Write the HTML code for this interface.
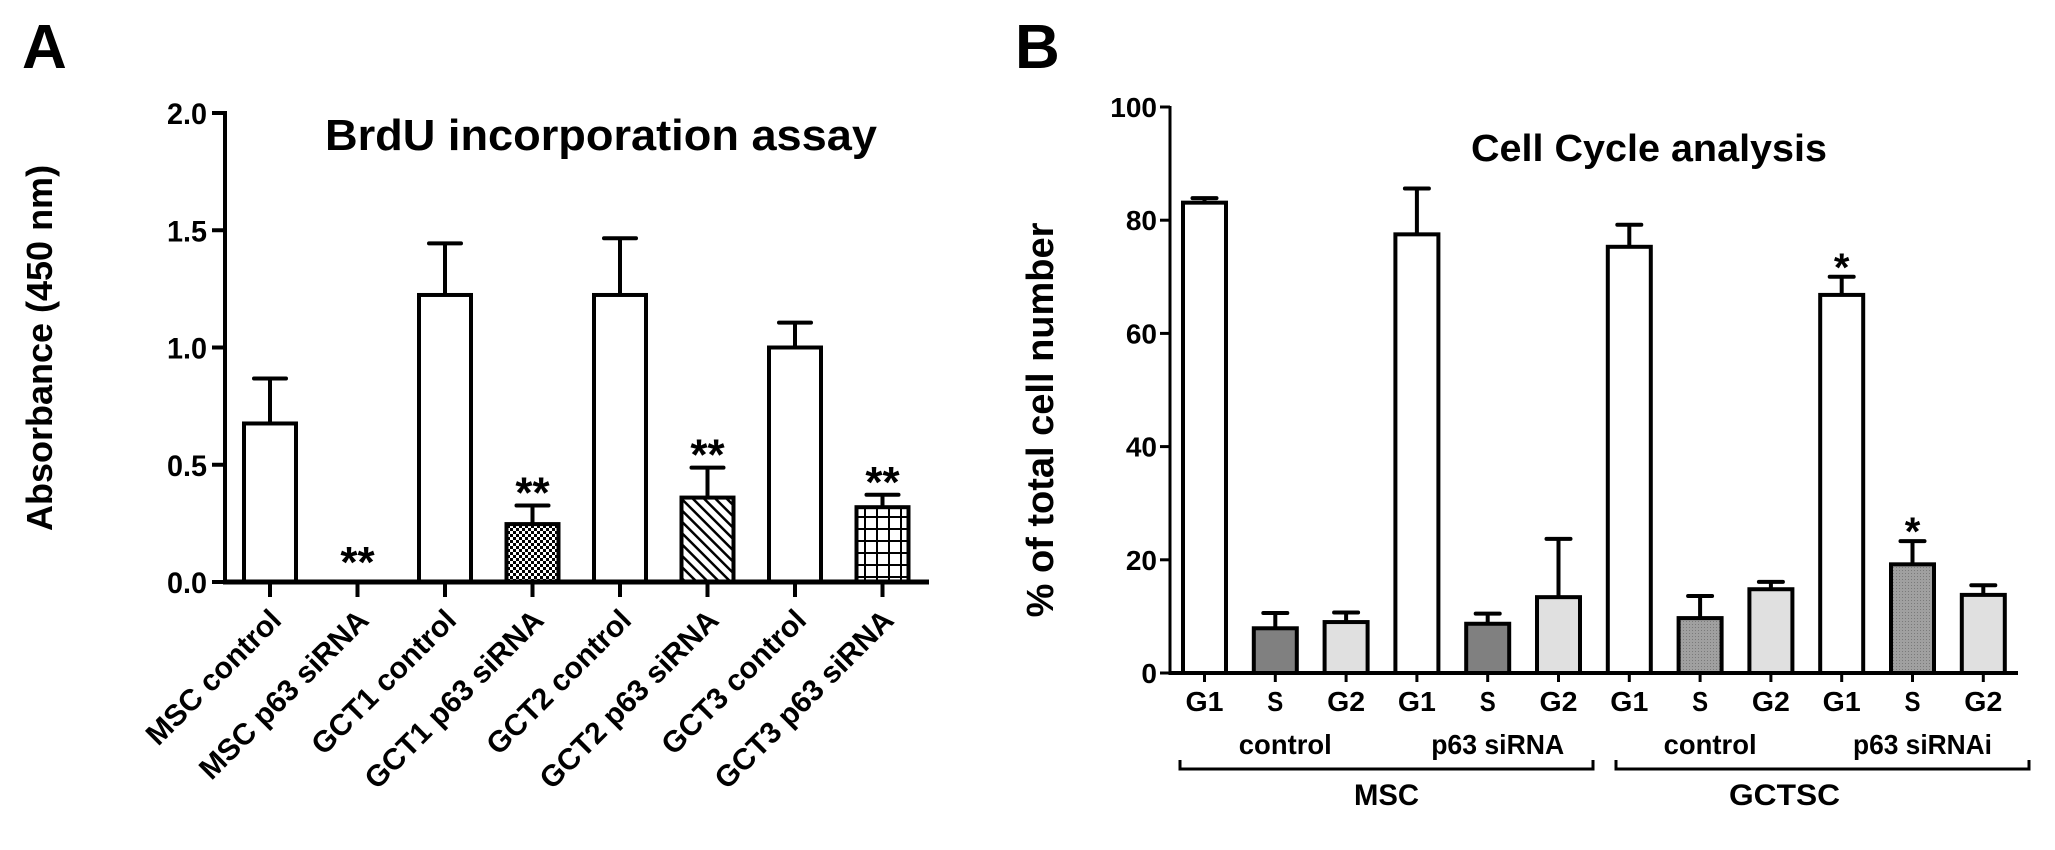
<!DOCTYPE html>
<html><head><meta charset="utf-8"><style>
html,body{margin:0;padding:0;background:#fff;}
svg{display:block;font-family:"Liberation Sans",Arial,sans-serif;font-weight:bold;}
</style></head><body>
<svg id="fig" width="2055" height="850" viewBox="0 0 2055 850" xmlns="http://www.w3.org/2000/svg">
<defs>
<pattern id="checker" width="6" height="6" patternUnits="userSpaceOnUse"><rect width="6" height="6" fill="#fff"/><rect width="3" height="3" fill="#000"/><rect x="3" y="3" width="3" height="3" fill="#000"/></pattern>
<pattern id="hatch" width="8" height="8" patternUnits="userSpaceOnUse" patternTransform="rotate(-45)"><rect width="8" height="8" fill="#fff"/><rect x="0" y="0" width="2.5" height="8" fill="#000"/></pattern>
<pattern id="grid" width="12" height="12" patternUnits="userSpaceOnUse"><rect width="12" height="12" fill="#fff"/><rect width="12" height="2" fill="#000"/><rect width="2" height="12" fill="#000"/></pattern>
<pattern id="dots" width="3" height="3" patternUnits="userSpaceOnUse"><rect width="3" height="3" fill="#a0a0a0"/><rect width="1" height="1" fill="#7a7a7a"/></pattern>
</defs>
<text x="22" y="68" font-size="62">A</text>
<text x="1015" y="68" font-size="62">B</text>
<g id="chartA"></g>
<g id="chartB"></g>
</svg>
<script>
// ---- Chart A data ----
const catsA = ["MSC control","MSC p63 siRNA","GCT1 control","GCT1 p63 siRNA","GCT2 control","GCT2 p63 siRNA","GCT3 control","GCT3 p63 siRNA"];
const meanA = [0.676, 0.005, 1.224, 0.247, 1.224, 0.36, 1.0, 0.319];
const errA  = [0.192, 0, 0.22, 0.079, 0.242, 0.128, 0.106, 0.053];
const fillA = ["#fff","#fff","#fff","url(#checker)","#fff","url(#hatch)","#fff","url(#grid)"];
const starA = ["","**","","**","","**","","**"];
const ticksA = [0, 0.5, 1.0, 1.5, 2.0];
const tickLabA = ["0.0","0.5","1.0","1.5","2.0"];
// ---- Chart B data ----
const phasesB = ["G1","S","G2","G1","S","G2","G1","S","G2","G1","S","G2"];
const meanB = [83.1, 7.9, 9.0, 77.5, 8.7, 13.4, 75.3, 9.7, 14.8, 66.8, 19.2, 13.8];
const errB  = [0.8, 2.7, 1.7, 8.1, 1.8, 10.3, 3.9, 3.9, 1.3, 3.2, 4.1, 1.7];
const fillB = ["#fff","#808080","#e0e0e0","#fff","#808080","#e0e0e0","#fff","url(#dots)","#e0e0e0","#fff","url(#dots)","#e0e0e0"];
const starB = ["","","","","","","","","","*","*",""];
const ticksB = [0,20,40,60,80,100];
const tickLabB = ["0","20","40","60","80","100"];
const treatB = ["control","p63 siRNA","control","p63 siRNAi"];
const cellB = ["MSC","GCTSC"];

const NS="http://www.w3.org/2000/svg";
function mk(parent, tag, attrs, text){
  const e=document.createElementNS(NS,tag);
  for(const k in attrs) e.setAttribute(k, attrs[k]);
  if(text!==undefined) e.textContent=text;
  parent.appendChild(e); return e;
}
// ---- Chart A ----
(function(){
  const g=document.getElementById('chartA');
  const x0=225, yZero=582, pxPer=234.5, c0=270, step=87.5, bw=56;
  const yA=v=>yZero-v*pxPer, xA=i=>c0+i*step;
  let t=mk(g,'text',{x:325,y:150,'font-size':44,textLength:552,lengthAdjust:'spacingAndGlyphs'},'BrdU incorporation assay');
   
  t=mk(g,'text',{x:0,y:0,'font-size':36,'text-anchor':'middle',transform:'translate(52,348) rotate(-90)'},'Absorbance (450 nm)');
   
  let ax=mk(g,'line',{x1:x0,y1:yA(2.0)-2,x2:x0,y2:yZero+2,stroke:'#000','stroke-width':4});
   
  ticksA.forEach((v,i)=>{
    const l=mk(g,'line',{x1:x0-13,y1:yA(v),x2:x0,y2:yA(v),stroke:'#000','stroke-width':4});
     
    const tl=mk(g,'text',{x:x0-18,y:yA(v)+11,'font-size':30,'text-anchor':'end',textLength:40,lengthAdjust:'spacingAndGlyphs'},tickLabA[i]);
     
  });
  catsA.forEach((c,i)=>{
    const cx=xA(i), top=yA(meanA[i]);
    if(errA[i]>0){
      const et=yA(meanA[i]+errA[i]);
      const e1=mk(g,'line',{x1:cx,y1:top,x2:cx,y2:et,stroke:'#000','stroke-width':4});
       
      const e2=mk(g,'line',{x1:cx-16,y1:et,x2:cx+16,y2:et,stroke:'#000','stroke-width':4,'stroke-linecap':'round'});
       
    }
    const h=Math.max(yZero-top,0.5);
    const r=mk(g,'rect',{x:cx-bw/2+2,y:top,width:bw-4,height:h,fill:fillA[i],stroke:'#000','stroke-width':meanA[i]>0.02?4:1});
     
    if(starA[i]){
      const sy=yA(meanA[i]+errA[i])+(errA[i]>0?2:-4);
      const s=mk(g,'text',{x:cx,y:sy,'font-size':44,'text-anchor':'middle'},starA[i]);
       
    }
    const tk=mk(g,'line',{x1:cx,y1:yZero,x2:cx,y2:yZero+15,stroke:'#000','stroke-width':4});
     
    const lb=mk(g,'text',{x:0,y:0,'font-size':30,'text-anchor':'end',transform:'translate('+(cx+13)+',622) rotate(-45)'},c);
     
  });
  ax=mk(g,'line',{x1:x0-2,y1:yZero,x2:929,y2:yZero,stroke:'#000','stroke-width':5});
   
})();
// ---- Chart B ----
(function(){
  const g=document.getElementById('chartB');
  const x0=1170, yZero=673, pxPer=5.66, c0=1204.5, step=70.8, bw=47;
  const yB=v=>yZero-v*pxPer, xB=i=>c0+i*step;
  let t=mk(g,'text',{x:1471,y:161,'font-size':38,textLength:356,lengthAdjust:'spacingAndGlyphs'},'Cell Cycle analysis');
   
  t=mk(g,'text',{x:0,y:0,'font-size':38,'text-anchor':'middle',transform:'translate(1053,420) rotate(-90)'},'% of total cell number');
   
  let ax=mk(g,'line',{x1:x0,y1:yB(100)-1,x2:x0,y2:yZero+2,stroke:'#000','stroke-width':3});
   
  ticksB.forEach((v,i)=>{
    const l=mk(g,'line',{x1:x0-10,y1:yB(v),x2:x0,y2:yB(v),stroke:'#000','stroke-width':3});
     
    const tl=mk(g,'text',{x:x0-13,y:yB(v)+10,'font-size':28,'text-anchor':'end'},tickLabB[i]);
     
  });
  phasesB.forEach((p,i)=>{
    const cx=xB(i), top=yB(meanB[i]), et=yB(meanB[i]+errB[i]);
    const e1=mk(g,'line',{x1:cx,y1:top,x2:cx,y2:et,stroke:'#000','stroke-width':4});
     
    const e2=mk(g,'line',{x1:cx-12,y1:et,x2:cx+12,y2:et,stroke:'#000','stroke-width':4,'stroke-linecap':'round'});
     
    const r=mk(g,'rect',{x:cx-bw/2+2,y:top,width:bw-4,height:yZero-top,fill:fillB[i],stroke:'#000','stroke-width':4});
     
    if(starB[i]){
      const s=mk(g,'text',{x:cx,y:et+4,'font-size':40,'text-anchor':'middle'},starB[i]);
       
    }
    const tk=mk(g,'line',{x1:cx,y1:yZero,x2:cx,y2:yZero+9,stroke:'#000','stroke-width':3});
     
    const lb=mk(g,'text',{x:cx,y:711,'font-size':28,'text-anchor':'middle',textLength:p.length>1?38:16,lengthAdjust:'spacingAndGlyphs'},p);
     
  });
  ax=mk(g,'line',{x1:x0-1,y1:yZero,x2:2018,y2:yZero,stroke:'#000','stroke-width':4});
   
  const treatW=[93,133,93,139];
  treatB.forEach((tx,k)=>{
    const cx=(xB(k*3)+xB(k*3+2))/2 + 10;
    const lb=mk(g,'text',{x:cx,y:754,'font-size':28,'text-anchor':'middle',textLength:treatW[k],lengthAdjust:'spacingAndGlyphs'},tx);
     
  });
  const cellW=[65,111];
  cellB.forEach((tx,k)=>{
    const xa=k?1616:1180, xb=k?2029:1593;
    const br=mk(g,'path',{d:'M'+xa+' 760 V769 H'+xb+' V760',fill:'none',stroke:'#000','stroke-width':3});
     
    const lb=mk(g,'text',{x:(xa+xb)/2-(k?38:0),y:805,'font-size':30,'text-anchor':'middle',textLength:cellW[k],lengthAdjust:'spacingAndGlyphs'},tx);
     
  });
})();
</script>
</body></html>
